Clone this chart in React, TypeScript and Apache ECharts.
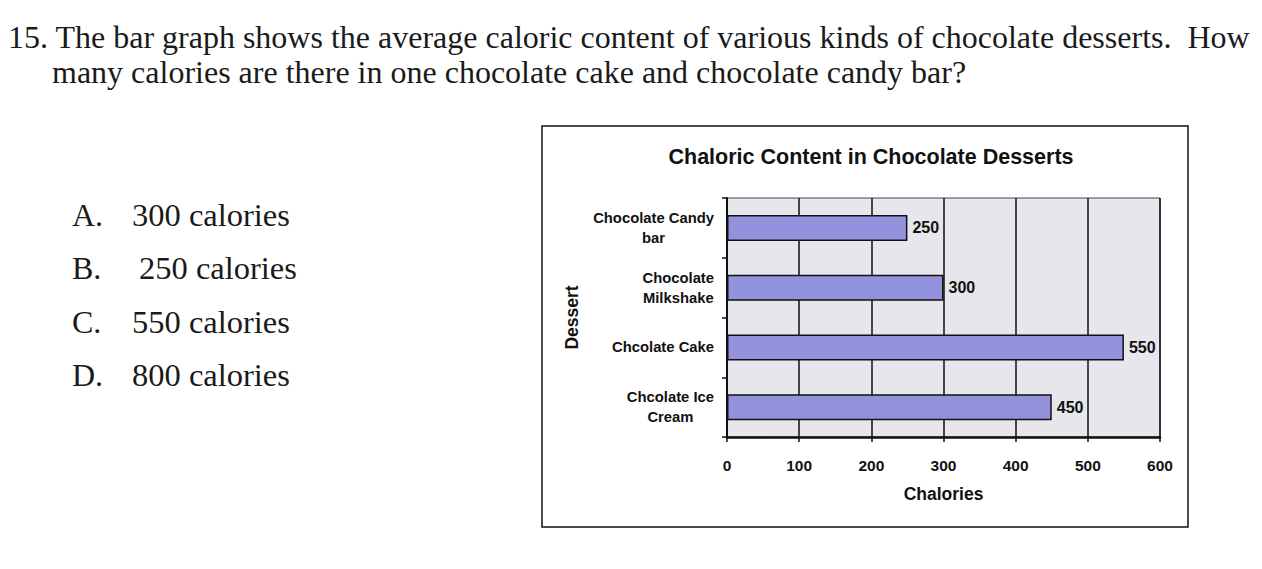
import React, { useEffect, useRef } from "react";
import * as echarts from "echarts";

const questionLines = [
  "15. The bar graph shows the average caloric content of various kinds of chocolate desserts.  How",
  "many calories are there in one chocolate cake and chocolate candy bar?",
];
const answerLetters = ["A.", "B.", "C.", "D."];
const answerTexts = ["300 calories", "250 calories", "550 calories", "800 calories"];

const chartTitle = "Chaloric Content in Chocolate Desserts";
const categories = ["Chocolate Candy\nbar", "Chocolate\nMilkshake", "Chcolate Cake", "Chcolate Ice\nCream"];
const calories = [250, 300, 550, 450];
const xAxisName = "Chalories";
const yAxisName = "Dessert";
const xMin = 0;
const xMax = 600;
const xStep = 100;

const SERIF = "'Liberation Serif', 'DejaVu Serif', serif";
const SANS = "'Liberation Sans', Arial, sans-serif";

export default function App() {
  const ref = useRef<HTMLDivElement>(null);
  useEffect(() => {
    if (!ref.current) return;
    const chart = echarts.init(ref.current, null, { renderer: "svg" });
    const answerYs = [215, 268, 322, 375];
    const answerXs = [132, 139, 132, 132];
    const graphics: any[] = [
      {
        type: "text",
        x: 8,
        y: 37,
        style: { text: questionLines[0], font: `32px ${SERIF}`, fill: "#1a1a1a", verticalAlign: "middle" },
      },
      {
        type: "text",
        x: 52,
        y: 72,
        style: { text: questionLines[1], font: `32px ${SERIF}`, fill: "#1a1a1a", verticalAlign: "middle" },
      },
      {
        type: "rect",
        shape: { x: 542, y: 126, width: 646, height: 401 },
        style: { fill: "none", stroke: "#111", lineWidth: 1.5 },
        silent: true,
      },
    ];
    answerLetters.forEach((l, i) => {
      graphics.push({
        type: "text",
        x: 72,
        y: answerYs[i],
        style: { text: l, font: `32px ${SERIF}`, fill: "#1a1a1a", verticalAlign: "middle" },
      });
      graphics.push({
        type: "text",
        x: answerXs[i],
        y: answerYs[i],
        style: { text: answerTexts[i], font: `32.5px ${SERIF}`, fill: "#1a1a1a", verticalAlign: "middle" },
      });
    });

    chart.setOption({
      animation: false,
      backgroundColor: "#ffffff",
      title: {
        text: chartTitle,
        left: 866,
        top: 141,
        textAlign: "center",
        textStyle: { fontFamily: SANS, fontWeight: "bold", fontSize: 21.5, color: "#111" },
      },
      grid: {
        left: 727,
        right: 1262 - 1160,
        top: 198,
        bottom: 569 - 437,
        show: true,
        backgroundColor: "#e6e6ec",
        borderColor: "#444",
        borderWidth: 1,
      },
      xAxis: {
        type: "value",
        min: xMin,
        max: xMax,
        interval: xStep,
        name: xAxisName,
        nameLocation: "middle",
        nameGap: 48,
        nameTextStyle: { fontFamily: SANS, fontWeight: "bold", fontSize: 17.5, color: "#111" },
        axisLine: { show: true, lineStyle: { color: "#111", width: 2.5 } },
        axisTick: { show: true, length: 5, lineStyle: { color: "#111", width: 1.5 } },
        axisLabel: { margin: 20, fontFamily: SANS, fontWeight: "bold", fontSize: 15.5, color: "#111" },
        splitLine: { show: true, lineStyle: { color: "#111", width: 1.5 } },
      },
      yAxis: {
        type: "category",
        data: categories,
        inverse: true,
        name: yAxisName,
        nameLocation: "middle",
        nameGap: 146,
        nameRotate: 90,
        nameTextStyle: { fontFamily: SANS, fontWeight: "bold", fontSize: 17.5, color: "#111" },
        axisLine: { show: true, lineStyle: { color: "#111", width: 2 } },
        axisTick: { show: true, length: 5, lineStyle: { color: "#111", width: 1.5 } },
        axisLabel: {
          margin: 13,
          align: "right",
          fontFamily: SANS,
          fontWeight: "bold",
          fontSize: 14.8,
          color: "#111",
          lineHeight: 20,
          formatter: (v: string) =>
            v
              .split("\n")
              .map((s) => `{c|${s}}`)
              .join("\n"),
          rich: {
            c: { align: "center", fontFamily: SANS, fontWeight: "bold", fontSize: 14.8, color: "#111", lineHeight: 20 },
          },
        },
        splitLine: { show: false },
      },
      series: [
        {
          type: "bar",
          data: calories,
          barWidth: 26,
          itemStyle: { color: "#9293dc", borderColor: "#111", borderWidth: 1.5 },
          label: {
            show: true,
            position: "right",
            distance: 5,
            fontFamily: SANS,
            fontWeight: "bold",
            fontSize: 16,
            color: "#111",
          },
        },
      ],
      graphic: graphics,
    });
    return () => chart.dispose();
  }, []);
  return <div ref={ref} style={{ position: "absolute", left: 0, top: 0, width: 1262, height: 569 }} />;
}
